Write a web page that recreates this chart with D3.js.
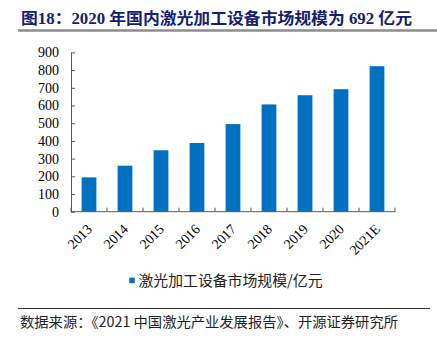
<!DOCTYPE html>
<html>
<head>
<meta charset="utf-8">
<script src="https://cdn.jsdelivr.net/npm/d3@7"></script>
<style>
  body { margin: 0; background: #fff; }
  svg { display: block; }
</style>
</head>
<body>
<div id="container"></div>
<script>
// 激光加工设备市场规模（亿元）
var years = ['2013', '2014', '2015', '2016', '2017', '2018', '2019', '2020', '2021E'];
var marketSize = [194, 260, 347, 388, 495, 606, 658, 692, 822];
var yTicks = [0, 100, 200, 300, 400, 500, 600, 700, 800, 900];

var titleText = '图18：2020 年国内激光加工设备市场规模为 692 亿元';
var legendText = '激光加工设备市场规模/亿元';
var sourceText = '数据来源：《2021 中国激光产业发展报告》、开源证券研究所';

var W = 437, H = 338;
var plot = { left: 71, right: 395, top: 52.4, bottom: 211.7 };

var svg = d3.select('#container').append('svg')
  .attr('width', W)
  .attr('height', H);

// title + grey rule
svg.append('text')
  .attr('x', 21)
  .attr('y', 24)
  .attr('textLength', 391)
  .attr('lengthAdjust', 'spacingAndGlyphs')
  .style('font-family', '"Liberation Serif", "Noto Sans CJK SC", serif')
  .style('font-weight', 'bold')
  .style('font-size', '16px')
  .style('fill', '#14206e')
  .text(titleText);

svg.append('line')
  .attr('x1', 18).attr('x2', 437)
  .attr('y1', 30.5).attr('y2', 30.5)
  .attr('stroke', '#8c8c8c')
  .attr('stroke-width', 2.5);

var x = d3.scaleBand()
  .domain(years)
  .range([plot.left, plot.right])
  .paddingInner(0.59)
  .paddingOuter(0.295);

var y = d3.scaleLinear()
  .domain([0, 900])
  .range([plot.bottom, plot.top]);

var axisColor = '#595959';

// bars
svg.selectAll('rect.bar')
  .data(years)
  .enter()
  .append('rect')
  .attr('class', 'bar')
  .attr('x', function(d) { return x(d); })
  .attr('width', x.bandwidth())
  .attr('y', function(d, i) { return y(marketSize[i]); })
  .attr('height', function(d, i) { return y(0) - y(marketSize[i]); })
  .attr('fill', '#0070c0');

// y axis, ticks pointing inward
var yAxis = svg.append('g')
  .attr('transform', 'translate(' + plot.left + ',0)')
  .call(d3.axisLeft(y).tickValues(yTicks).tickSize(-4).tickSizeOuter(0).tickPadding(12).tickFormat(d3.format('d')));
yAxis.select('.domain').attr('stroke', axisColor);
yAxis.selectAll('.tick line').attr('stroke', axisColor);
yAxis.selectAll('text')
  .style('font-family', '"Liberation Serif", serif')
  .style('font-size', '14px')
  .style('fill', '#000');

// x axis line with ticks on category boundaries
svg.append('line')
  .attr('x1', plot.left).attr('x2', plot.right)
  .attr('y1', y(0)).attr('y2', y(0))
  .attr('stroke', axisColor);

var bounds = years.map(function(d) { return x(d) - x.step() * x.paddingInner() / 2; });
bounds.push(plot.right);
svg.selectAll('line.xtick')
  .data(bounds)
  .enter()
  .append('line')
  .attr('class', 'xtick')
  .attr('x1', function(d) { return d; })
  .attr('x2', function(d) { return d; })
  .attr('y1', y(0))
  .attr('y2', y(0) - 4)
  .attr('stroke', axisColor);

svg.selectAll('text.xlabel')
  .data(years)
  .enter()
  .append('text')
  .attr('class', 'xlabel')
  .attr('transform', function(d) {
    return 'translate(' + (x(d) + x.bandwidth() / 2 + 4) + ',230) rotate(-45)';
  })
  .attr('text-anchor', 'end')
  .style('font-family', '"Liberation Serif", serif')
  .style('font-size', '14px')
  .text(function(d) { return d; });

// legend
svg.append('rect')
  .attr('x', 129.3).attr('y', 277.7)
  .attr('width', 5.5).attr('height', 5.5)
  .attr('fill', '#0070c0');

svg.append('text')
  .attr('x', 138.5)
  .attr('y', 285.5)
  .attr('textLength', 184)
  .attr('lengthAdjust', 'spacingAndGlyphs')
  .style('font-family', '"Noto Sans CJK SC", sans-serif')
  .style('font-size', '15px')
  .style('fill', '#222')
  .text(legendText);

// source line
svg.append('line')
  .attr('x1', 18).attr('x2', 430)
  .attr('y1', 308.5).attr('y2', 308.5)
  .attr('stroke', '#333')
  .attr('stroke-width', 1);

svg.append('text')
  .attr('x', 20)
  .attr('y', 326.5)
  .attr('textLength', 378)
  .attr('lengthAdjust', 'spacingAndGlyphs')
  .style('font-family', '"Noto Sans CJK SC", sans-serif')
  .style('font-size', '14px')
  .style('fill', '#222')
  .text(sourceText);
</script>
</body>
</html>
